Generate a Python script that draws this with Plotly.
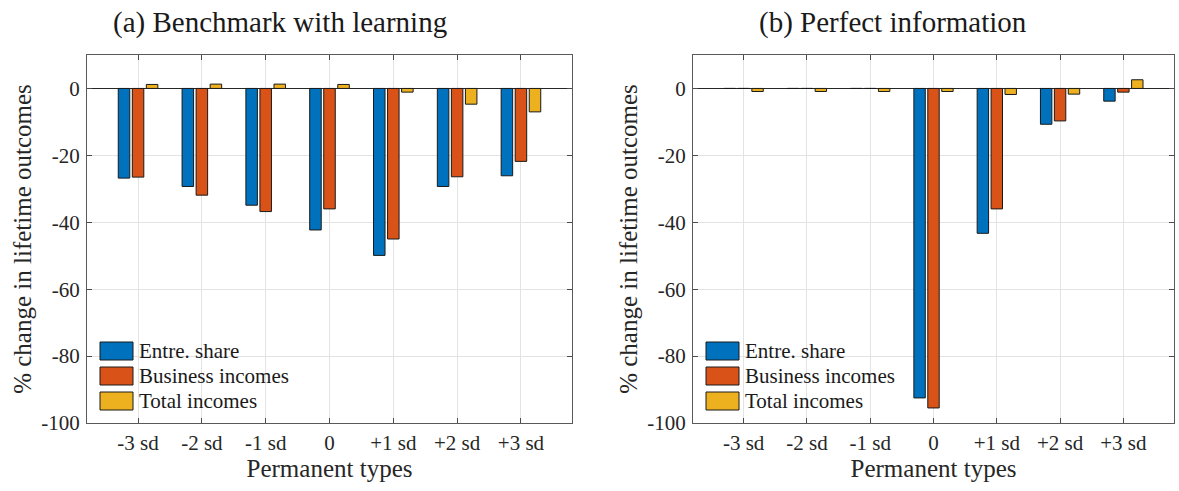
import plotly.graph_objects as go

W, H = 1179, 491

categories = ["-3 sd", "-2 sd", "-1 sd", "0", "+1 sd", "+2 sd", "+3 sd"]
series_names = ["Entre. share", "Business incomes", "Total incomes"]
colors = ["#0072BD", "#D95319", "#EDB120"]

# (a) Benchmark with learning
bench_entre = [-26.8, -29.3, -34.9, -42.3, -49.9, -29.3, -26.1]
bench_business = [-26.5, -31.9, -36.8, -36.0, -45.0, -26.4, -21.8]
bench_total = [1.2, 1.3, 1.3, 1.2, -1.1, -4.7, -7.0]

# (b) Perfect information
perf_entre = [0.0, 0.0, 0.0, -92.5, -43.3, -10.7, -3.8]
perf_business = [0.0, 0.0, 0.0, -95.5, -36.0, -9.7, -1.1]
perf_total = [-0.9, -0.9, -0.9, -0.9, -1.8, -1.7, 2.6]

titles = ["(a) Benchmark with learning", "(b) Perfect information"]
x_title = "Permanent types"
y_title = "% change in lifetime outcomes"
y_ticks = [-100, -80, -60, -40, -20, 0]
y_ticktext = ["-100", "-80", "-60", "-40", "-20", "0"]

FONT = "Liberation Serif"
xpos = list(range(1, len(categories) + 1))


def px(x):
    return x / W


def py(y):
    return 1 - y / H


fig = go.Figure()
panels = [
    (bench_entre, bench_business, bench_total),
    (perf_entre, perf_business, perf_total),
]
for i, data in enumerate(panels):
    xa = "x" if i == 0 else "x2"
    ya = "y" if i == 0 else "y2"
    for name, vals, col in zip(series_names, data, colors):
        fig.add_trace(go.Bar(
            x=xpos, y=vals, name=name, xaxis=xa, yaxis=ya,
            marker=dict(color=col, line=dict(color="#1a1a1a", width=1)),
            showlegend=False,
        ))

dom_left = [px(87), px(572)]
dom_right = [px(693), px(1174)]
ydom = [py(423), py(55)]

axis_common = dict(
    showline=True, linecolor="#5a5a5a", linewidth=1.3, mirror="ticks",
    ticks="inside", ticklen=5, tickcolor="#4a4a4a", tickwidth=1,
    showgrid=True, gridcolor="#e3e3e3", gridwidth=1, automargin=False,
    tickfont=dict(family=FONT, size=21, color="#262626"),
)
xcommon = dict(axis_common, range=[0.2, 7.8], tickvals=xpos, ticktext=categories,
               zeroline=False, ticklabelstandoff=1,
               title=dict(text=x_title, font=dict(family=FONT, size=25, color="#262626"), standoff=1))
ycommon = dict(axis_common, range=[-100, 10], tickvals=y_ticks, ticktext=y_ticktext,
               zeroline=True, zerolinecolor="#262626", zerolinewidth=1,
               ticklabelstandoff=2,
               title=dict(text=y_title, font=dict(family=FONT, size=25, color="#262626"), standoff=2))

fig.update_layout(
    width=W, height=H, autosize=False,
    margin=dict(l=0, r=0, t=0, b=0),
    paper_bgcolor="white", plot_bgcolor="white",
    barmode="group", bargap=0.34, bargroupgap=0.18,
    xaxis=dict(xcommon, domain=dom_left, anchor="y"),
    yaxis=dict(ycommon, domain=ydom, anchor="x"),
    xaxis2=dict(xcommon, domain=dom_right, anchor="y2"),
    yaxis2=dict(ycommon, domain=ydom, anchor="x2"),
    showlegend=False,
)

# panel titles
for t, cx in zip(titles, [280, 893]):
    fig.add_annotation(text=t, x=px(cx), y=py(22), xref="paper", yref="paper",
                       showarrow=False, xanchor="center", yanchor="middle",
                       font=dict(family=FONT, size=29, color="#1a1a1a"))

# manual legends (MATLAB-style wide patches)
rows = [351, 376, 401]
for x0 in [100, 706]:
    for name, col, yc in zip(series_names, colors, rows):
        fig.add_shape(type="rect", xref="paper", yref="paper",
                      x0=px(x0), x1=px(x0 + 33), y0=py(yc + 9), y1=py(yc - 9),
                      fillcolor=col, line=dict(color="#1a1a1a", width=1))
        fig.add_annotation(text=name, x=px(x0 + 37), y=py(yc), xref="paper", yref="paper",
                           showarrow=False, xanchor="left", yanchor="middle",
                           font=dict(family=FONT, size=21, color="#1a1a1a"))

fig.write_html("out.html",
               config={"displayModeBar": False},
               post_script="document.body.style.margin='0';document.body.style.overflow='hidden';")
